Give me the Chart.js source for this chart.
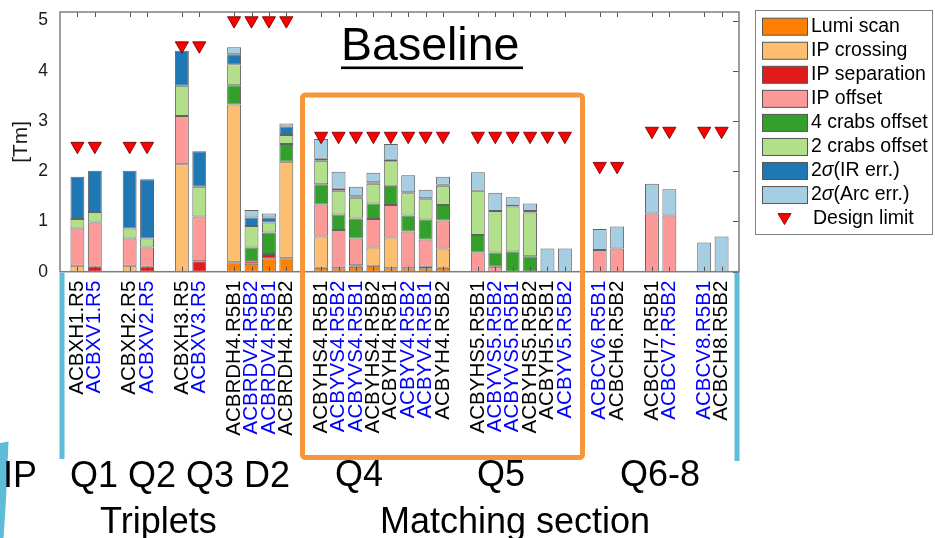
<!DOCTYPE html>
<html>
<head>
<meta charset="utf-8">
<script src="https://cdn.jsdelivr.net/npm/chart.js@4.4.1/dist/chart.umd.min.js"></script>
<style>
  html, body { margin: 0; padding: 0; background: #ffffff; }
  #wrap { position: relative; width: 935px; height: 538px; }
  canvas { display: block; }
</style>
</head>
<body>
<div id="wrap"><canvas id="c" width="935" height="538"></canvas></div>
<script>
const _ = null;

// Category slots (empty strings are the gaps between magnet groups)
const labels = [
  '',
  'ACBXH1.R5', 'ACBXV1.R5', '',
  'ACBXH2.R5', 'ACBXV2.R5', '',
  'ACBXH3.R5', 'ACBXV3.R5', '',
  'ACBRDH4.R5B1', 'ACBRDV4.R5B2', 'ACBRDV4.R5B1', 'ACBRDH4.R5B2', '',
  'ACBYHS4.R5B1', 'ACBYVS4.R5B2', 'ACBYVS4.R5B1', 'ACBYHS4.R5B2',
  'ACBYH4.R5B1', 'ACBYV4.R5B2', 'ACBYV4.R5B1', 'ACBYH4.R5B2', '',
  'ACBYHS5.R5B1', 'ACBYVS5.R5B2', 'ACBYVS5.R5B1', 'ACBYHS5.R5B2',
  'ACBYH5.R5B1', 'ACBYV5.R5B2', '',
  'ACBCV6.R5B1', 'ACBCH6.R5B2', '',
  'ACBCH7.R5B1', 'ACBCV7.R5B2', '',
  'ACBCV8.R5B1', 'ACBCH8.R5B2',
  ''
];

const lumiScan     = [_, _, _, _, _, _, _, _, _, _, 0.19, 0.16, 0.27, 0.27, _, 0.08, 0.07, 0.10, 0.12, 0.07, 0.07, 0.07, 0.08, _, _, _, _, _, _, _, _, _, _, _, _, _, _, _, _, _];
const ipCrossing   = [_, 0.12, _, _, 0.12, _, _, 2.14, _, _, 3.14, _, _, 1.92, _, 0.62, _, _, 0.36, 0.61, _, _, 0.38, _, _, _, _, _, _, _, _, _, _, _, _, _, _, _, _, _];
const ipSeparation = [_, _, 0.10, _, _, 0.10, _, _, 0.21, _, _, 0.05, 0.08, _, _, _, _, 0.03, _, _, _, 0.03, _, _, _, _, _, _, _, _, _, _, _, _, _, _, _, _, _, _];
const ipOffset     = [_, 0.74, 0.88, _, 0.54, 0.38, _, 0.96, 0.89, _, _, _, _, _, _, 0.64, 0.76, 0.53, 0.57, 0.65, 0.73, 0.54, 0.56, _, 0.38, 0.10, _, _, _, _, _, 0.43, 0.46, _, 1.16, 1.12, _, _, _, _];
const crabs4Offset = [_, _, _, _, _, _, _, _, _, _, 0.38, 0.27, 0.43, 0.35, _, 0.40, 0.31, 0.40, 0.31, 0.38, 0.32, 0.40, 0.31, _, 0.35, 0.28, 0.40, 0.31, _, _, _, _, _, _, _, _, _, _, _, _];
const crabs2Offset = [_, 0.19, 0.21, _, 0.20, 0.18, _, 0.60, 0.59, _, 0.42, 0.43, 0.20, 0.18, _, 0.47, 0.47, 0.41, 0.39, 0.49, 0.44, 0.40, 0.38, _, 0.88, 0.83, 0.90, 0.87, _, _, _, _, _, _, _, _, _, _, _, _];
const irErr        = [_, 0.84, 0.82, _, 1.15, 1.18, _, 0.70, 0.71, _, 0.20, 0.17, 0.10, 0.17, _, 0.04, 0.04, 0.03, 0.03, 0.03, 0.02, 0.02, 0.02, _, _, _, 0.01, 0.03, _, _, _, _, _, _, _, _, _, _, _, _];
const arcErr       = [_, _, _, _, _, _, _, _, _, _, 0.14, 0.15, 0.08, 0.06, _, 0.39, 0.34, 0.19, 0.19, 0.31, 0.34, 0.17, 0.16, _, 0.37, 0.36, 0.17, 0.15, 0.46, 0.46, _, 0.42, 0.44, _, 0.59, 0.52, _, 0.58, 0.70, _];
const designLimit  = [_, 2.5, 2.5, _, 2.5, 2.5, _, 4.5, 4.5, _, 5.0, 5.0, 5.0, 5.0, _, 2.7, 2.7, 2.7, 2.7, 2.7, 2.7, 2.7, 2.7, _, 2.7, 2.7, 2.7, 2.7, 2.7, 2.7, _, 2.1, 2.1, _, 2.8, 2.8, _, 2.8, 2.8, _];

const yTicks = [0, 1, 2, 3, 4, 5];

const FONT = "'Liberation Sans', Arial, Helvetica, sans-serif";
const edge = 'rgba(45,45,45,0.75)';

function barSet(label, data, color) {
  return {
    type: 'bar', label, data, backgroundColor: color, borderColor: edge,
    borderWidth: 1, borderSkipped: false, stack: 'main', order: 1,
    barPercentage: 0.8, categoryPercentage: 1.0
  };
}

const datasets = [
  barSet('Lumi scan', lumiScan, '#ff7f00'),
  barSet('IP crossing', ipCrossing, '#fdbf6f'),
  barSet('IP separation', ipSeparation, '#e31a1c'),
  barSet('IP offset', ipOffset, '#fb9a99'),
  barSet('4 crabs offset', crabs4Offset, '#33a02c'),
  barSet('2 crabs offset', crabs2Offset, '#b2df8a'),
  barSet('2σ(IR err.)', irErr, '#1f78b4'),
  barSet('2σ(Arc err.)', arcErr, '#a6cee3'),
  {
    type: 'line', label: 'Design limit', data: designLimit, showLine: false,
    stack: 'limit', order: 0, pointStyle: 'triangle', rotation: 180,
    pointRadius: 7.6, pointHoverRadius: 7.6, backgroundColor: '#ff0000',
    borderColor: 'rgba(110,0,0,0.85)', borderWidth: 1, clip: false
  }
];

const decor = {
  id: 'decor',
  afterDatasetsDraw(chart) {
    const { ctx, chartArea: a, scales: { x, y } } = chart;
    ctx.save();
    ctx.strokeStyle = '#555';
    ctx.lineWidth = 1;
    ctx.beginPath();
    labels.forEach((l, i) => {
      if (!l) return;
      const px = Math.round(x.getPixelForValue(i)) + 0.5;
      ctx.moveTo(px, a.top); ctx.lineTo(px, a.top + 5);
      ctx.moveTo(px, a.bottom); ctx.lineTo(px, a.bottom - 5);
    });
    yTicks.forEach(v => {
      const py = Math.round(y.getPixelForValue(v)) + 0.5;
      ctx.moveTo(a.right, py); ctx.lineTo(a.right - 6, py);
    });
    ctx.stroke();
    ctx.strokeStyle = '#7d7d7d';
    ctx.lineWidth = 1.5;
    ctx.strokeRect(a.left, a.top, a.right - a.left, a.bottom - a.top);
    ctx.restore();
  },
  afterDraw(chart) {
    const { ctx, chartArea: a } = chart;
    ctx.save();
    ctx.fillStyle = '#000';
    ctx.font = '46.5px ' + FONT;
    ctx.textBaseline = 'alphabetic';
    ctx.textAlign = 'left';
    ctx.fillText('Baseline', 341, 60);
    ctx.fillRect(341, 66.5, 182, 2.6);

    ctx.strokeStyle = '#f7953b';
    ctx.lineWidth = 5;
    ctx.beginPath();
    if (ctx.roundRect) ctx.roundRect(302.5, 95, 280, 362.5, 3);
    else ctx.rect(302.5, 95, 280, 362.5);
    ctx.stroke();

    ctx.fillStyle = '#5dbcd8';
    ctx.fillRect(59.5, a.bottom + 1, 5, 458 - a.bottom);
    ctx.fillRect(734.5, a.bottom + 1, 5, 460 - a.bottom);
    ctx.beginPath();
    ctx.moveTo(0, 443); ctx.lineTo(8.5, 441.5); ctx.lineTo(6, 500); ctx.lineTo(3.5, 538); ctx.lineTo(0, 538);
    ctx.closePath(); ctx.fill();

    ctx.fillStyle = '#000';
    ctx.font = '36px ' + FONT;
    ctx.fillText('IP', 3, 487);
    ctx.fillText('Q1 Q2 Q3 D2', 70, 487);
    ctx.fillText('Q4', 335, 486);
    ctx.fillText('Q5', 477, 486);
    ctx.fillText('Q6-8', 620, 486);
    ctx.fillText('Triplets', 100, 533);
    ctx.fillText('Matching section', 380, 533);

    const lx = 755.5, ly = 10.5, lw = 177, lh = 224;
    ctx.fillStyle = '#fff';
    ctx.fillRect(lx, ly, lw, lh);
    ctx.strokeStyle = '#808080';
    ctx.lineWidth = 1;
    ctx.strokeRect(lx, ly, lw, lh);
    ctx.font = '19.5px ' + FONT;
    ctx.textBaseline = 'middle';
    chart.data.datasets.forEach((ds, i) => {
      const cy = 26.7 + i * 24.05;
      if (ds.type === 'bar') {
        ctx.fillStyle = ds.backgroundColor;
        ctx.fillRect(762, cy - 8.5, 46, 17);
        ctx.strokeStyle = '#555';
        ctx.strokeRect(762.5, cy - 8.5, 45, 17);
      } else {
        ctx.fillStyle = '#ff0000';
        ctx.strokeStyle = 'rgba(110,0,0,0.85)';
        ctx.beginPath();
        ctx.moveTo(778, cy - 5.5); ctx.lineTo(791, cy - 5.5); ctx.lineTo(784.5, cy + 5.5);
        ctx.closePath(); ctx.fill(); ctx.stroke();
      }
      ctx.fillStyle = '#000';
      let tx = ds.type === 'bar' ? 811 : 813;
      const parts = ds.label.split('σ');
      parts.forEach((p, k) => {
        if (k > 0) {
          ctx.font = 'italic 19.5px ' + FONT;
          ctx.fillText('σ', tx, cy);
          tx += ctx.measureText('σ').width;
          ctx.font = '19.5px ' + FONT;
        }
        ctx.fillText(p, tx, cy);
        tx += ctx.measureText(p).width;
      });
    });
    ctx.restore();
  }
};

new Chart(document.getElementById('c'), {
  data: { labels, datasets },
  options: {
    responsive: false,
    animation: false,
    events: [],
    layout: { padding: { top: 12, right: 196, left: 0, bottom: 0 } },
    plugins: { legend: { display: false }, tooltip: { enabled: false }, title: { display: false } },
    scales: {
      x: {
        type: 'category',
        stacked: true,
        offset: false,
        grid: { display: false, drawTicks: false },
        border: { display: false },
        ticks: {
          autoSkip: false, minRotation: 90, maxRotation: 90, padding: 9,
          font: { family: FONT, size: 20.5 },
          color: c => (labels[c.index] || '').includes('V') ? '#0000ff' : '#000000'
        },
        afterFit: s => { s.height = 266.3; s.paddingLeft = 0; s.paddingRight = 0; s.paddingTop = 0; s.paddingBottom = 0; }
      },
      y: {
        stacked: true,
        min: 0, max: 5.17,
        grid: { display: false, drawTicks: false },
        border: { display: false },
        ticks: { stepSize: 1, padding: 12, color: '#1a1a1a', font: { family: FONT, size: 17.5 } },
        afterBuildTicks: s => { s.ticks = yTicks.map(v => ({ value: v })); },
        title: { display: true, text: '[Tm]', color: '#1a1a1a', font: { family: FONT, size: 21 }, padding: { top: 9, bottom: 0 } },
        afterFit: s => { s.width = 60; s.paddingTop = 0; s.paddingBottom = 0; s.paddingLeft = 0; s.paddingRight = 0; }
      }
    }
  },
  plugins: [decor]
});
</script>
</body>
</html>
